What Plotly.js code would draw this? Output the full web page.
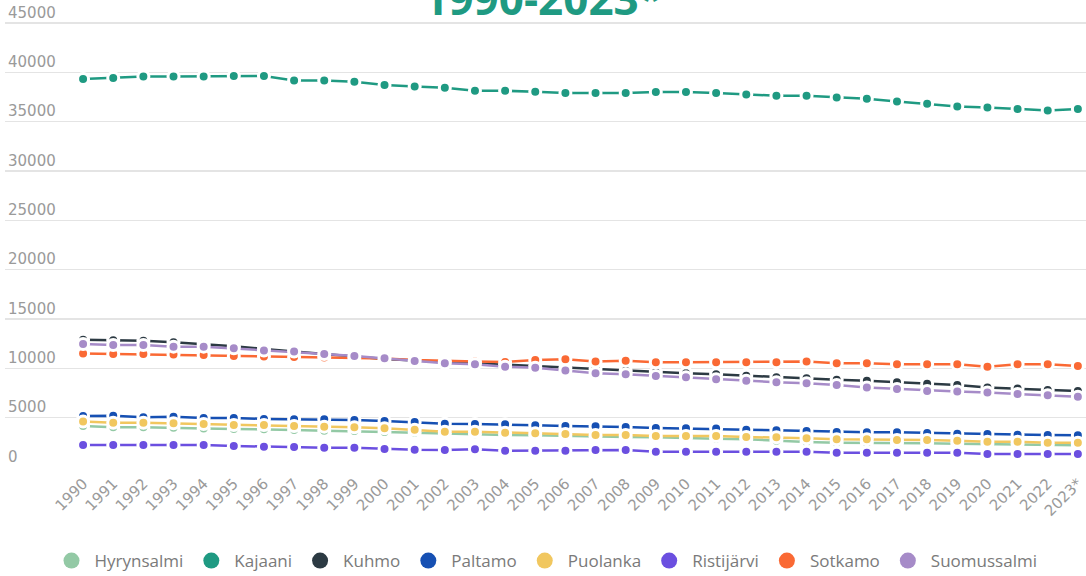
<!DOCTYPE html>
<html>
<head>
<meta charset="utf-8">
<script src="https://cdn.plot.ly/plotly-3.0.1.min.js"></script>
<style>
	html, body { margin: 0; padding: 0; background: #fff; }
	#chart { width: 1086px; height: 576px; }
</style>
</head>
<body>
<div id="chart"></div>
<script>
// years on the x axis (last one is a preliminary figure)
var years = ['1990', '1991', '1992', '1993', '1994', '1995', '1996', '1997', '1998', '1999',
	'2000', '2001', '2002', '2003', '2004', '2005', '2006', '2007', '2008', '2009',
	'2010', '2011', '2012', '2013', '2014', '2015', '2016', '2017', '2018', '2019',
	'2020', '2021', '2022', '2023*'];

var municipalities = ['Hyrynsalmi', 'Kajaani', 'Kuhmo', 'Paltamo', 'Puolanka', 'Ristijärvi', 'Sotkamo', 'Suomussalmi'];
var colors = ['#93c9a5', '#1f9a82', '#2c3a43', '#1650b3', '#f1c75f', '#6b4fe0', '#fa6934', '#a68bc8'];

var hyrynsalmi = [4160, 4020, 4020, 3990, 3890, 3850, 3820, 3750, 3680, 3650,
	3550, 3470, 3380, 3310, 3240, 3210, 3140, 3110, 3040, 3010,
	2970, 2870, 2810, 2670, 2540, 2470, 2470, 2400, 2400, 2360,
	2330, 2300, 2230, 2200];
var kajaani = [39320, 39420, 39590, 39590, 39590, 39620, 39620, 39180, 39180, 39050,
	38710, 38570, 38440, 38130, 38130, 38030, 37900, 37900, 37900, 38000,
	38000, 37900, 37760, 37630, 37630, 37460, 37320, 37050, 36820, 36540,
	36440, 36280, 36140, 36280];
var kuhmo = [12900, 12850, 12800, 12650, 12450, 12250, 11950, 11700, 11450, 11200,
	10950, 10800, 10650, 10500, 10400, 10250, 10050, 9950, 9750, 9600,
	9500, 9400, 9250, 9100, 9000, 8850, 8750, 8600, 8450, 8300,
	8050, 7950, 7800, 7700];
var paltamo = [5170, 5200, 5040, 5100, 4970, 4970, 4870, 4830, 4830, 4770,
	4670, 4560, 4390, 4360, 4330, 4230, 4160, 4120, 4060, 3960,
	3920, 3890, 3780, 3720, 3650, 3550, 3520, 3520, 3450, 3380,
	3350, 3280, 3240, 3210];
var puolanka = [4600, 4490, 4490, 4430, 4360, 4260, 4260, 4160, 4090, 4020,
	3920, 3780, 3580, 3580, 3480, 3410, 3350, 3240, 3240, 3140,
	3140, 3140, 3040, 3010, 2910, 2810, 2810, 2740, 2740, 2670,
	2570, 2570, 2470, 2470];
var ristijarvi = [2230, 2230, 2230, 2230, 2230, 2130, 2060, 2030, 1960, 1960,
	1830, 1750, 1720, 1790, 1650, 1650, 1650, 1720, 1720, 1550,
	1550, 1550, 1550, 1550, 1550, 1450, 1450, 1450, 1450, 1450,
	1320, 1320, 1320, 1320];
var sotkamo = [11500, 11450, 11450, 11400, 11350, 11250, 11200, 11150, 11100, 11050,
	11000, 10850, 10750, 10700, 10650, 10840, 10920, 10680, 10780, 10610,
	10610, 10610, 10610, 10610, 10680, 10520, 10520, 10410, 10410, 10410,
	10170, 10410, 10410, 10240];
var suomussalmi = [12470, 12370, 12370, 12200, 12200, 12030, 11800, 11700, 11460, 11260,
	11020, 10750, 10520, 10410, 10170, 10070, 9770, 9500, 9400, 9230,
	9100, 8890, 8750, 8590, 8490, 8320, 8050, 7910, 7710, 7640,
	7540, 7400, 7270, 7130];

var yTicks = [0, 5000, 10000, 15000, 20000, 25000, 30000, 35000, 40000, 45000];

var seriesValues = [hyrynsalmi, kajaani, kuhmo, paltamo, puolanka, ristijarvi, sotkamo, suomussalmi];

var data = [];
var i;
for (i = 0; i < municipalities.length; i++) {
	data.push({
		x : years,
		y : seriesValues[i],
		type : 'scatter',
		mode : 'lines+markers',
		name : municipalities[i],
		showlegend : false,
		line : { color : colors[i], width : 2.5 },
		marker : { color : colors[i], size : 11, line : { color : '#ffffff', width : 3 } },
		cliponaxis : false
	});
}
// legend entries only (bigger round swatches, no line)
for (i = 0; i < municipalities.length; i++) {
	data.push({
		x : [null],
		y : [null],
		type : 'scatter',
		mode : 'markers',
		name : municipalities[i],
		marker : { color : colors[i], size : 16 },
		hoverinfo : 'skip'
	});
}

var layout = {
	width : 1086,
	height : 576,
	paper_bgcolor : '#ffffff',
	plot_bgcolor : '#ffffff',
	margin : { l : 5, r : 0, t : 0, b : 109 },
	font : { family : 'Open Sans, sans-serif', color : '#777777' },
	title : {
		text : '<b>1990-2023*</b>',
		font : { family : 'Open Sans, sans-serif', size : 44, color : '#1f9a82' },
		x : 0.5,
		xanchor : 'center',
		y : 1.0,
		yref : 'container',
		yanchor : 'middle'
	},
	showlegend : true,
	legend : {
		orientation : 'h',
		x : 0.5,
		xanchor : 'center',
		y : 0.026,
		yref : 'container',
		yanchor : 'middle',
		itemwidth : 36,
		font : { family : 'Open Sans, sans-serif', size : 17, color : '#7a7a7a' }
	},
	xaxis : {
		type : 'category',
		range : [-2.59, 33.27],
		tickangle : -45,
		showgrid : false,
		zeroline : false,
		showline : false,
		ticks : '',
		ticklabelstandoff : 4,
		tickfont : { family : 'DejaVu Sans, sans-serif', size : 15, color : '#9a9a9a' }
	},
	yaxis : {
		range : [0, 47331],
		tickvals : yTicks,
		ticktext : yTicks.map(String),
		ticklabelposition : 'inside top',
		tickfont : { family : 'DejaVu Sans, sans-serif', size : 15, color : '#9a9a9a' },
		gridcolor : '#e4e4e4',
		gridwidth : 1.5,
		zeroline : false,
		showline : false
	}
};

Plotly.newPlot('chart', data, layout, { displayModeBar : false, staticPlot : true });
</script>
</body>
</html>
